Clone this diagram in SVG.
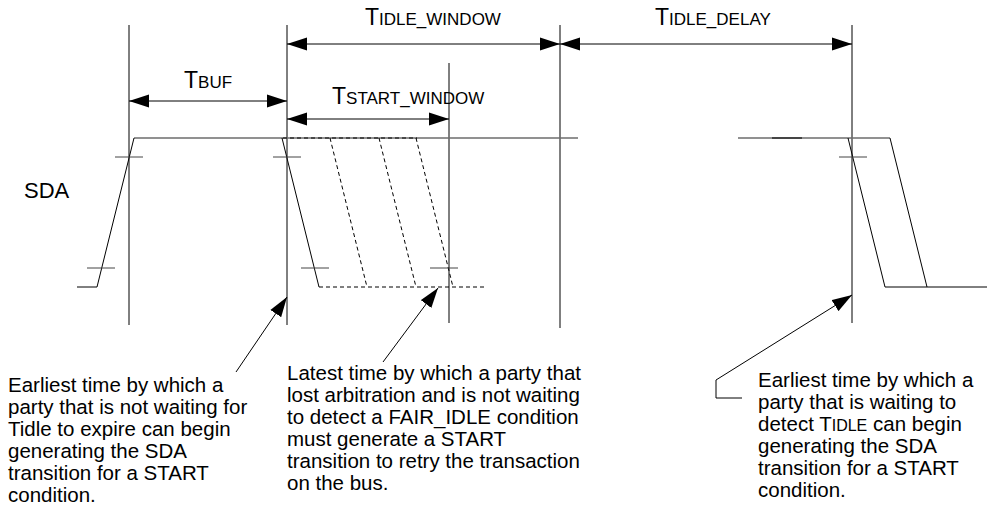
<svg xmlns="http://www.w3.org/2000/svg" width="987" height="512" viewBox="0 0 987 512">
  <defs>
    <!-- filled arrowhead, tip sits on the path end point -->
    <marker id="ah" markerUnits="userSpaceOnUse" viewBox="0 0 21 14" markerWidth="21" markerHeight="14" refX="20" refY="7" orient="auto-start-reverse">
      <path d="M0,0.5 L20,7 L0,13.5 z" fill="#000"/>
    </marker>
  </defs>
  <style>
    .v{stroke:#000;stroke-width:1;fill:none}
    .hi{stroke:#6d6d6d;stroke-width:1.6;fill:none}
    .sig{stroke:#000;stroke-width:1;fill:none}
    .dash{stroke:#000;stroke-width:1;fill:none;stroke-dasharray:4 3}
    .tick{stroke:#444;stroke-width:1;fill:none}
    .dim{stroke:#000;stroke-width:1;fill:none;marker-start:url(#ah);marker-end:url(#ah)}
    .ptr{stroke:#000;stroke-width:1;fill:none;marker-end:url(#ah)}
    text{font-family:"Liberation Sans",Arial,sans-serif;fill:#000}
    .body{font-size:20.5px}
    .big{font-size:23px}
    .sc{font-size:17px}
  </style>
  <rect width="987" height="512" fill="#fff"/>

  <!-- timing reference lines -->
  <g id="markers">
    <line class="v" x1="129" y1="25" x2="129" y2="325"/>
    <line class="v" x1="287" y1="25" x2="287" y2="325"/>
    <line class="v" x1="449" y1="63" x2="449" y2="323"/>
    <line class="v" x1="560" y1="25" x2="560" y2="328"/>
    <line class="v" x1="852" y1="25" x2="852" y2="323"/>
  </g>

  <!-- SDA waveform -->
  <g id="sda">
    <text class="body" x="24" y="198" style="font-size:22px">SDA</text>
    <path class="hi" d="M134,138 H578"/>
    <path class="sig" d="M77,287 H97 L134,138"/>
    <path class="sig" d="M282,138 L319,287"/>
    <path class="dash" d="M319,287 H487"/>
    <path class="dash" d="M283,138 H417"/>
    <path class="dash" d="M330,138 L367,287"/>
    <path class="dash" d="M379,138 L416,287"/>
    <path class="dash" d="M416,138 L453,287"/>
    <path class="hi" d="M738,138 H890"/>
    <path d="M772,138 H802" stroke="#333" stroke-width="1.6"/>
    <path class="sig" d="M848,138 L885,287 H987"/>
    <path class="sig" d="M890,138 L927,287"/>
    <!-- threshold ticks -->
    <path class="tick" d="M115,157 H143 M87,268 H115 M273,157 H301 M301,268 H329 M430,268 H458 M839,157 H867"/>
  </g>

  <!-- connectors: dimension arrows and callout pointers -->
  <g id="connectors">
    <line class="dim" x1="129" y1="101" x2="287" y2="101"/>
    <line class="dim" x1="287" y1="44" x2="560" y2="44"/>
    <line class="dim" x1="560" y1="44" x2="852" y2="44"/>
    <line class="dim" x1="287" y1="119" x2="449" y2="119"/>
    <path class="ptr" d="M236,372 L287,297"/>
    <path class="ptr" d="M383,362 L438,288"/>
    <path class="ptr" d="M742,398 H716 V380 L852,295"/>
  </g>

  <g id="label-tbuf">
    <text x="184" y="88"><tspan class="big">T</tspan><tspan class="sc">BUF</tspan></text>
  </g>
  <g id="label-tidle-window">
    <text x="365" y="25"><tspan class="big">T</tspan><tspan class="sc">IDLE_WINDOW</tspan></text>
  </g>
  <g id="label-tstart-window">
    <text x="332" y="104"><tspan class="big">T</tspan><tspan class="sc">START_WINDOW</tspan></text>
  </g>
  <g id="label-tidle-delay">
    <text x="655" y="25"><tspan class="big">T</tspan><tspan class="sc">IDLE_DELAY</tspan></text>
  </g>

  <g id="note-left">
    <text class="body" x="8" y="392">Earliest time by which a</text>
    <text class="body" x="8" y="414">party that is not waiting for</text>
    <text class="body" x="8" y="436">Tidle to expire can begin</text>
    <text class="body" x="8" y="458">generating the SDA</text>
    <text class="body" x="8" y="480">transition for a START</text>
    <text class="body" x="8" y="502">condition.</text>
  </g>
  <g id="note-middle">
    <text class="body" x="287" y="380">Latest time by which a party that</text>
    <text class="body" x="287" y="402">lost arbitration and is not waiting</text>
    <text class="body" x="287" y="424">to detect a FAIR_IDLE condition</text>
    <text class="body" x="287" y="446">must generate a START</text>
    <text class="body" x="287" y="468">transition to retry the transaction</text>
    <text class="body" x="287" y="490">on the bus.</text>
  </g>
  <g id="note-right">
    <text class="body" x="758" y="387">Earliest time by which a</text>
    <text class="body" x="758" y="409">party that is waiting to</text>
    <text class="body" x="758" y="431">detect T<tspan style="font-size:16px">IDLE</tspan> can begin</text>
    <text class="body" x="758" y="453">generating the SDA</text>
    <text class="body" x="758" y="475">transition for a START</text>
    <text class="body" x="758" y="497">condition.</text>
  </g>
</svg>
